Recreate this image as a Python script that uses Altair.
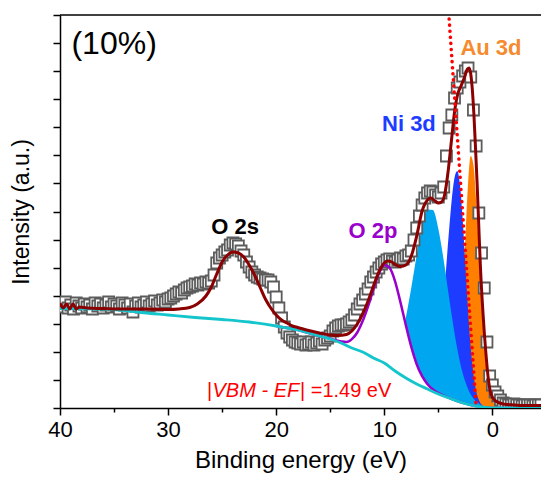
import altair as alt
import pandas as pd

# ---------------- data (binding energy in eV, intensity in a.u.) ----------------
DATA_I = [104, 101, 106, 100, 103, 99, 105, 102, 100, 104, 101, 103, 99, 105, 102, 104, 100, 103, 106, 101,
          104, 102, 99, 105, 103, 100, 104, 96, 102, 105, 101, 103, 106, 102, 104, 107, 103, 105, 108, 106, 109,
          110, 112, 114, 116, 115, 118, 120, 121, 122, 124, 123, 125, 124, 126, 125, 127, 133, 145, 150, 153,
          156, 158, 163, 165, 164, 162, 157, 153, 146, 141, 136, 133, 131, 130, 129, 128, 128, 126, 121, 111,
          100, 90, 81, 75, 71, 68, 66, 65, 64, 66, 63, 64, 66, 63, 65, 67, 64, 68, 70, 72,
          77, 80, 82, 83, 83, 84, 86, 88, 93, 99, 104, 108, 114, 119, 126, 131, 136, 140, 144, 146,
          148, 149, 147, 146, 148, 150, 149, 152, 153, 157, 168, 180, 192, 203, 210, 215, 217, 216, 213, 211,
          215, 221, 252, 280, 293, 310, 320, 326, 332, 337, 340, 331, 298, 262, 195, 155, 120, 66, 32, 23,
          16, 12, 8, 5, 4, 3, 3, 4, 3, 3, 2, 3, 3, 3, 2, 3, 3, 3]
DATA_E = [round(40 - 0.25 * i, 2) for i in range(len(DATA_I))]

ENV_E = [40, 39.7, 39.4, 39.1, 38.8, 38.5, 38.2, 37.5, 36, 34, 32, 30, 29, 28, 27.3, 26.5, 26, 25.5, 25, 24.5,
         24, 23.5, 23, 22.5, 22, 21.5, 21, 20.5, 20, 19.5, 19, 18.5, 18, 17, 16, 15, 14.3, 13.5, 13, 12.5,
         12, 11.5, 11, 10.5, 10, 9.7, 9.3, 9, 8.5, 8, 7.5, 7, 6.5, 6, 5.7, 5.3, 5, 4.7, 4.4, 4.1,
         3.8, 3.5, 3.2, 2.9, 2.6, 2.3, 2.15, 2, 1.85, 1.7, 1.55, 1.4, 1.25, 1.1, 0.85, 0.6, 0.35, 0.1, -0.3, -1,
         -2, -3, -4.5]
ENV_I = [105, 100, 104, 99, 104, 99, 101, 100, 99.5, 99, 99, 98.5, 99, 100.5, 104, 112, 121, 134, 146, 153,
         156, 155, 151, 143, 133, 121, 109, 100, 93, 88, 85, 82, 80.5, 77.5, 75, 73, 72.5, 73.5, 77, 84,
         94, 107, 122, 136, 145, 147, 146, 143.5, 141.5, 143, 152, 172, 197, 208, 210, 207, 205, 206, 214, 236,
         266, 296, 314, 322, 330, 339, 340, 334, 318, 292, 258, 222, 180, 140, 92, 55, 27, 13, 7, 4,
         3, 2.5, 2.5]

BG_E = [40, 36, 34, 32.5, 30, 27.5, 25, 22.5, 20, 19, 18, 17, 16, 15, 14, 13, 12, 11, 10, 9,
        8, 7, 6, 5, 4, 3, 2, 1, 0, -4.5]
BG_I = [99.5, 99, 97.5, 95.5, 93, 90.5, 88.5, 86, 82, 80, 78, 75, 72, 69, 65, 60, 56, 50, 45, 37,
        30, 24, 19, 14, 10, 6, 3, 1, 0, 0]

FIT_E = [20, 19, 18, 17, 16, 15, 14, 13.5, 13, 12.5, 12, 11.5, 11, 10.5, 10, 9.5, 9, 8.5, 8, 7.5,
         7, 6.5, 6, 5.5, 5, 4.5, 4, 3.75, 3.5, 3.25, 3, 2.75, 2.5, 2.25, 2, 1.75, 1.5, 1.25, 1, 0.75,
         0.5, 0.25, 0, -1, -2, -3, -4.5]
FIT_BG = [82, 80, 78, 75, 72, 69, 65, 62, 60, 58, 56, 53, 50, 47.5, 45, 41, 37, 33, 30, 27,
          24, 21.5, 19, 16.5, 14, 12, 10, 9, 8, 7, 6, 5.2, 4.5, 3.7, 3, 2.5, 2, 1.5, 1, 0.6,
          0.3, 0.1, 0, 0, 0, 0, 0]
O2P_I = [82, 80, 78, 75, 72, 69.2, 66.6, 66, 68.9, 75.5, 86.9, 101.7, 118.7, 134.2, 143, 140.1, 126.7, 105.6, 82.6, 61.1,
         43.8, 31.8, 23.8, 18.5, 14.8, 12.3, 10.1, 9, 8, 7, 6, 5.2, 4.5, 3.7, 3, 2.5, 2, 1.5, 1, 0.6,
         0.3, 0.1, 0, 0, 0, 0, 0]
LB_I = [82, 80, 78, 75, 72, 69, 65, 62, 60, 58, 56, 53.2, 50.5, 49, 48.9, 50, 55.9, 68.7, 90.8, 120.2,
        152.7, 181.6, 198.6, 198, 179.3, 147.6, 110.3, 91.9, 74.8, 59.4, 46.1, 35, 26.2, 19, 13.6, 9.6, 6.6, 4.5, 2.8, 1.7,
        0.9, 0.4, 0.2, 0, 0, 0, 0]
DB_I = [82, 80, 78, 75, 72, 69, 65, 62, 60, 58, 56, 53, 50, 47.5, 45, 41, 37, 33, 30, 27,
        24, 22.2, 22.5, 30.4, 56.2, 108.8, 178.4, 209.3, 230.2, 237, 223.6, 189.4, 144, 98.3, 60.4, 33.6, 17.1, 8.1, 3.6, 1.5,
        0.6, 0.2, 0, 0, 0, 0, 0]
AU_I = [82, 80, 78, 75, 72, 69, 65, 62, 60, 58, 56, 53, 50, 47.5, 45, 41, 37, 33, 30, 27,
        24, 21.5, 19, 16.5, 14, 12, 10.7, 11.8, 16.9, 30.9, 60.1, 108, 168.7, 224.3, 252.1, 243, 207.6, 157.4, 105.7, 62.9,
        33.2, 15.5, 6.4, 0, 0, 0, 0]

VBM_E = [4.0, 1.49]
VBM_I = [389, 0]

LABELS = ["O 2s", "O 2p", "Ni 3d", "Au 3d"]
LABEL_E = [23.8, 11.05, 7.72, 0.13]
LABEL_I = [174, 170, 277, 353]
LABEL_COLORS = ["#000000", "#9900CC", "#1E3CFF", "#F58A2E"]

X_TICKS = [40, 35, 30, 25, 20, 15, 10, 5, 0]
Y_TICKS = [0, 28.1, 56.1, 84.2, 112.3, 140.4, 168.4, 196.5, 224.6, 252.7, 280.7, 308.8, 336.9, 364.9, 393]

W, H = 481, 393
FONT = "Liberation Sans"

xscale = alt.Scale(domain=[-4.5, 40], reverse=True, nice=False, zero=False)
yscale = alt.Scale(domain=[0, 393], nice=False, zero=False)

x_axis = alt.Axis(
    values=X_TICKS,
    labelExpr="datum.value % 10 === 0 ? datum.label : ''",
    tickSize={"condition": {"test": "datum.value % 10 === 0", "value": 7}, "value": 4},
    labelFlush=False, labelOverlap=False, grid=False, labelPadding=4, titlePadding=8,
    titleFontSize=24,
)
y_axis = alt.Axis(values=Y_TICKS, labels=False, tickSize=7, grid=False, titlePadding=19)


def X(f):
    return alt.X(f, type="quantitative", scale=xscale, axis=x_axis, title="Binding energy (eV)")


def Y(f):
    return alt.Y(f, type="quantitative", scale=yscale, axis=y_axis, title="Intensity (a.u.)")


fit = pd.DataFrame({"e": FIT_E, "bg": FIT_BG, "o2p": O2P_I, "lb": LB_I, "db": DB_I, "au": AU_I})
data = pd.DataFrame({"e": DATA_E, "i": DATA_I})
env = pd.DataFrame({"e": ENV_E, "i": ENV_I})
bg = pd.DataFrame({"e": BG_E, "i": BG_I})
vbm = pd.DataFrame({"e": VBM_E, "i": VBM_I})
labels = pd.DataFrame({"t": LABELS, "e": LABEL_E, "i": LABEL_I, "c": LABEL_COLORS})

base_fit = alt.Chart(fit)


def area(field, color):
    return base_fit.mark_area(color=color, interpolate="monotone", clip=True, opacity=1).encode(
        x=X("e"), y=Y(field), y2="bg:Q")


au_area = area("au", "#FF8000")
db_area = area("db", "#1E3CFF")
lb_area = area("lb", "#00A6F0")
o2p_fill = area("o2p", "#FFFFFF")
o2p_line = base_fit.mark_line(color="#9900CC", strokeWidth=2.5, interpolate="monotone", clip=True).encode(
    x=X("e"), y=Y("o2p"))

squares = alt.Chart(data).mark_point(
    shape="square", size=121, filled=True, fill="white", fillOpacity=1, stroke="#5c5c5c",
    strokeWidth=1.8, opacity=1, clip=True).encode(x=X("e"), y=Y("i"))

bg_line = alt.Chart(bg).mark_line(color="#14C6CC", strokeWidth=2.8, interpolate="monotone", clip=True).encode(
    x=X("e"), y=Y("i"))
env_line = alt.Chart(env).mark_line(color="#8B0000", strokeWidth=3, interpolate="monotone", clip=True).encode(
    x=X("e"), y=Y("i"))
vbm_line = alt.Chart(vbm).mark_line(color="#FF0000", strokeWidth=3.5, strokeDash=[0.1, 6],
                                    strokeCap="round", clip=True).encode(x=X("e"), y=Y("i"))

top_rule = alt.Chart(pd.DataFrame({"a": [0]})).mark_rule(color="#000000", strokeWidth=1.5).encode(
    x=alt.value(0), x2=alt.value(W), y=alt.value(0))

peak_text = alt.Chart(labels).mark_text(font=FONT, fontSize=22, fontWeight="bold", align="center",
                                        baseline="alphabetic").encode(
    x=X("e"), y=Y("i"), text="t:N", color=alt.Color("c:N", scale=None))

pct_text = alt.Chart(pd.DataFrame({"t": ["(10%)"], "e": [38.94], "i": [354]})).mark_text(
    font=FONT, fontSize=32, align="left", baseline="alphabetic", color="#000000").encode(
    x=X("e"), y=Y("i"), text="t:N")

vbm_texts = pd.DataFrame({"t": ["|", "| =1.49 eV"], "e": [26.4, 17.8], "i": [11, 11]})
vbm_txt1 = alt.Chart(vbm_texts).mark_text(font=FONT, fontSize=20, align="left", baseline="alphabetic",
                                          color="#FF0000").encode(x=X("e"), y=Y("i"), text="t:N")
vbm_txt2 = alt.Chart(pd.DataFrame({"t": ["VBM - EF"], "e": [25.89], "i": [11]})).mark_text(
    font=FONT, fontSize=20, fontStyle="italic", align="left", baseline="alphabetic", color="#FF0000").encode(
    x=X("e"), y=Y("i"), text="t:N")

chart = alt.layer(
    au_area, db_area, lb_area, o2p_fill, squares, o2p_line, bg_line, env_line, vbm_line,
    top_rule, peak_text, pct_text, vbm_txt1, vbm_txt2,
).properties(
    width=W, height=H,
    autosize=alt.AutoSizeParams(type="none"),
    padding={"left": 60, "top": 15, "right": 0, "bottom": 73},
).configure_view(stroke=None).configure_axis(
    domainColor="#000000", domainWidth=1.5, tickColor="#000000", tickWidth=1.5,
    labelFont=FONT, labelFontSize=22, labelColor="#000000",
    titleFont=FONT, titleFontSize=23, titleFontWeight="normal", titleColor="#000000",
)

chart.save("out.html", embed_options={"renderer": "svg", "actions": False})
